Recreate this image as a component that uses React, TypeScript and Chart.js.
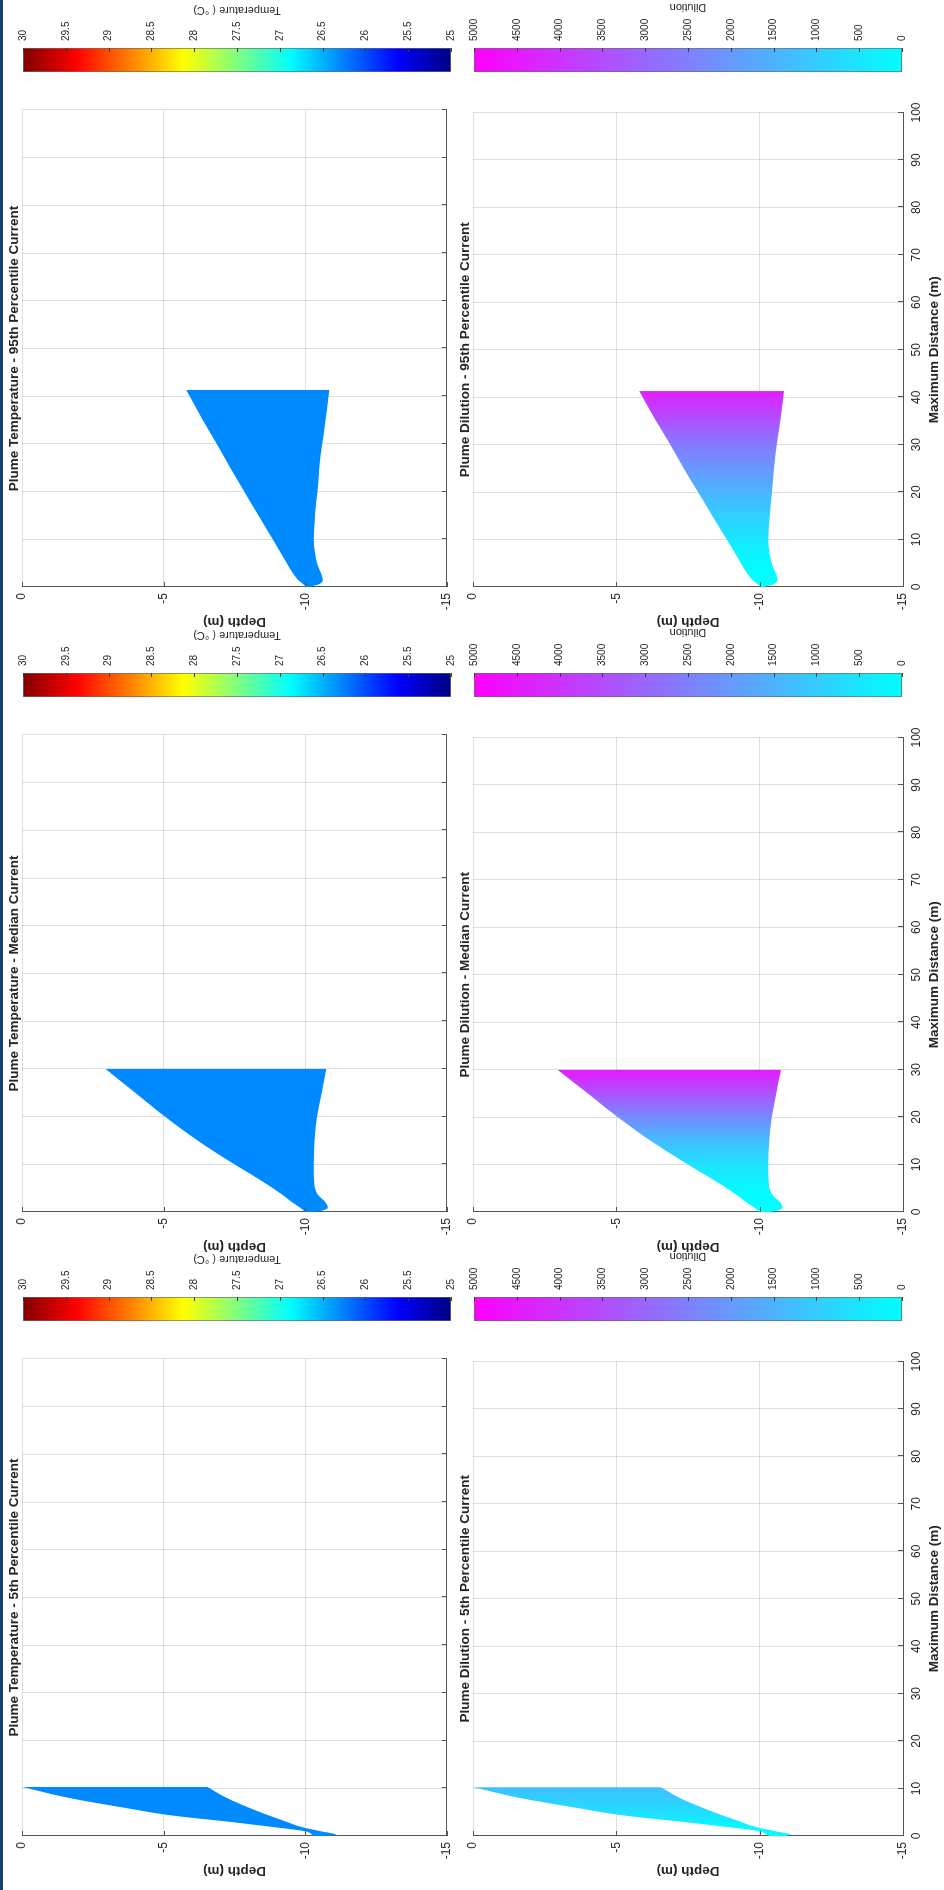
import React, { useEffect, useRef } from "react";
import { Chart, registerables } from "chart.js";

Chart.register(...registerables);

const FONT = "'Liberation Sans', Arial, Helvetica, sans-serif";
const TEXT = "#262626";
const AXIS = "#555555";
const GRID = "rgba(38,38,38,0.15)";

// ---------- tick labels ----------
const distanceTicks = [0, 10, 20, 30, 40, 50, 60, 70, 80, 90, 100];
const depthTicks = [0, -5, -10, -15];
const temperatureTicks = [25, 25.5, 26, 26.5, 27, 27.5, 28, 28.5, 29, 29.5, 30];
const dilutionTicks = [0, 500, 1000, 1500, 2000, 2500, 3000, 3500, 4000, 4500, 5000];

// ---------- current cases ----------
const caseNames = ["5th Percentile Current", "Median Current", "95th Percentile Current"];

// plume outline: distance (m), shallow edge depth (m), deep edge depth (m)
const p5Distance = [0, 0.3, 1, 2, 3, 4.3, 6, 8, 10.3];
const p5Top = [-10.35, -10.25, -10.0, -8.7, -7.3, -5.3, -3.55, -1.65, 0];
const p5Bottom = [-10.9, -11.08, -10.55, -9.8, -9.33, -8.72, -7.99, -7.22, -6.55];

const pMDistance = [0, 0.3, 1, 2, 3.6, 6, 10, 15, 20, 25, 30];
const pMTop = [-10.0, -9.95, -9.8, -9.55, -9.2, -8.6, -7.5, -6.2, -5.05, -4.0, -2.95];
const pMBottom = [-10.3, -10.6, -10.8, -10.72, -10.45, -10.32, -10.3, -10.33, -10.42, -10.58, -10.74];

const p95Distance = [0, 0.5, 1.5, 3, 5, 10, 15, 20, 25, 30, 35, 41.3];
const p95Top = [-10.05, -9.95, -9.75, -9.55, -9.35, -8.85, -8.35, -7.85, -7.35, -6.88, -6.38, -5.8];
const p95Bottom = [-10.1, -10.45, -10.62, -10.55, -10.42, -10.3, -10.35, -10.43, -10.5, -10.6, -10.72, -10.85];

// plume temperature (deg C) per case
const plumeTemperature = [26.3, 26.3, 26.3];

// dilution along the plume: distance (m) -> dilution
const dil5Distance = [0, 2, 5, 10.3];
const dil5Value = [0, 150, 650, 1250];
const dilMDistance = [0, 5, 10, 15, 20, 25, 30];
const dilMValue = [0, 150, 550, 1300, 2300, 3400, 4500];
const dil95Distance = [0, 5, 10, 20, 30, 41.3];
const dil95Value = [0, 100, 450, 1450, 2600, 4400];

// colormaps
const jetStops = [0, 0.125, 0.375, 0.625, 0.875, 1];
const jetColors = [[0, 0, 128], [0, 0, 255], [0, 255, 255], [255, 255, 0], [255, 0, 0], [128, 0, 0]];
const coolStops = [0, 1];
const coolColors = [[0, 255, 255], [255, 0, 255]];

const plumes = [
  { distance: p5Distance, top: p5Top, bottom: p5Bottom, dilDist: dil5Distance, dilVal: dil5Value },
  { distance: pMDistance, top: pMTop, bottom: pMBottom, dilDist: dilMDistance, dilVal: dilMValue },
  { distance: p95Distance, top: p95Top, bottom: p95Bottom, dilDist: dil95Distance, dilVal: dil95Value },
];

function mapColor(t: number, stops: number[], colors: number[][]): string {
  const tt = Math.max(0, Math.min(1, t));
  for (let i = 1; i < stops.length; i++) {
    if (tt <= stops[i]) {
      const f = (tt - stops[i - 1]) / (stops[i] - stops[i - 1]);
      const c = colors[i - 1].map((v, k) => Math.round(v + (colors[i][k] - v) * f));
      return `rgb(${c[0]},${c[1]},${c[2]})`;
    }
  }
  const c = colors[colors.length - 1];
  return `rgb(${c[0]},${c[1]},${c[2]})`;
}

const first = (a: number[]) => a[0];
const last = (a: number[]) => a[a.length - 1];
const norm = (v: number, a: number[]) => (v - Math.min(first(a), last(a))) / Math.abs(last(a) - first(a));

// ---------- layout (in the un-rotated landscape frame 1890 x 944) ----------
const FIG_W = 1890;
const FIG_H = 944;
const COL_LEFT = [54, 678, 1303];
const PLOT_W = 477;
const ROW_TOP = [22, 473];
const PLOT_H = 430;
const Y_AXIS_W = 54;
const RIGHT_PAD = 14;
const TITLE_PAD = 22;
const CB_GAP = 38;
const CB_W = 24;
const CB_AXIS_W = 56;

function plotConfig(kind: string, ci: number) {
  const p = plumes[ci];
  const isDil = kind === "dilution";
  const upper = p.distance.map((d, i) => ({ x: d, y: p.top[i] }));
  const lower = p.distance.map((d, i) => ({ x: d, y: p.bottom[i] }));
  const fillColor: any = isDil
    ? (c: any) => {
        const ch = c.chart;
        if (!ch.chartArea) return mapColor(0, coolStops, coolColors);
        const xs = ch.scales.x;
        const maxD = last(p.dilDist);
        const g = ch.ctx.createLinearGradient(xs.getPixelForValue(0), 0, xs.getPixelForValue(maxD), 0);
        p.dilDist.forEach((d, i) =>
          g.addColorStop(d / maxD, mapColor(norm(p.dilVal[i], dilutionTicks), coolStops, coolColors))
        );
        return g;
      }
    : mapColor(norm(plumeTemperature[ci], temperatureTicks), jetStops, jetColors);

  const title = (isDil ? "Plume Dilution - " : "Plume Temperature - ") + caseNames[ci];
  const xTitle = isDil ? "Maximum Distance (m)" : null;

  const textPlugin = {
    id: "panelText",
    afterDraw(chart: any) {
      const { ctx, chartArea: a } = chart;
      const xs = chart.scales.x;
      const ys = chart.scales.y;
      ctx.save();
      ctx.strokeStyle = AXIS;
      ctx.lineWidth = 1;
      ctx.beginPath();
      xs.ticks.forEach((t: any) => {
        const px = Math.round(xs.getPixelForValue(t.value)) + 0.5;
        ctx.moveTo(px, a.bottom);
        ctx.lineTo(px, a.bottom - 5);
      });
      ys.ticks.forEach((t: any) => {
        const py = Math.round(ys.getPixelForValue(t.value)) + 0.5;
        ctx.moveTo(a.left, py);
        ctx.lineTo(a.left + 5, py);
      });
      ctx.stroke();
      ctx.fillStyle = TEXT;
      ctx.font = `bold 13.5px ${FONT}`;
      ctx.textAlign = "center";
      ctx.textBaseline = "alphabetic";
      ctx.fillText(title, (a.left + a.right) / 2, a.top - 4);
      if (xTitle) ctx.fillText(xTitle, (a.left + a.right) / 2, a.bottom + 35);
      ctx.translate(a.left - 31, (a.top + a.bottom) / 2);
      ctx.rotate(-Math.PI / 2);
      ctx.fillText("Depth (m)", 0, 0);
      ctx.restore();
    },
  };

  return {
    type: "line",
    data: {
      datasets: [
        {
          data: upper,
          borderWidth: 0,
          borderColor: "rgba(0,0,0,0)",
          pointRadius: 0,
          tension: 0.3,
          fill: "+1",
          backgroundColor: fillColor,
        },
        {
          data: lower,
          borderWidth: 0,
          borderColor: "rgba(0,0,0,0)",
          pointRadius: 0,
          tension: 0.3,
          fill: false,
        },
      ],
    },
    options: {
      animation: false,
      responsive: false,
      devicePixelRatio: 1,
      events: [],
      layout: { padding: { left: 0, top: TITLE_PAD, right: RIGHT_PAD, bottom: 0 } },
      plugins: { legend: { display: false }, tooltip: { enabled: false }, title: { display: false } },
      elements: { line: { cubicInterpolationMode: "monotone" } },
      scales: {
        x: {
          type: "linear",
          min: first(distanceTicks),
          max: last(distanceTicks),
          afterBuildTicks: (s: any) => {
            s.ticks = distanceTicks.map((v) => ({ value: v }));
          },
          afterFit: (s: any) => {
            s.height = isDil ? 41 : 8;
          },
          grid: { color: GRID, lineWidth: 1, drawTicks: false },
          border: { display: true, color: AXIS, width: 1 },
          ticks: {
            display: isDil,
            padding: 6.5,
            maxRotation: 0,
            autoSkip: false,
            color: TEXT,
            font: { family: FONT, size: 12 },
            callback: (v: any) => String(v),
          },
        },
        y: {
          type: "linear",
          min: last(depthTicks),
          max: first(depthTicks),
          afterBuildTicks: (s: any) => {
            s.ticks = depthTicks.map((v) => ({ value: v }));
          },
          afterFit: (s: any) => {
            s.width = Y_AXIS_W;
          },
          grid: { color: GRID, lineWidth: 1, drawTicks: false },
          border: { display: true, color: AXIS, width: 1 },
          ticks: {
            padding: 6,
            autoSkip: false,
            color: TEXT,
            font: { family: FONT, size: 12 },
            callback: (v: any) => String(v),
          },
        },
      },
    },
    plugins: [textPlugin],
  };
}

function colorbarConfig(kind: string) {
  const isDil = kind === "dilution";
  const ticks = isDil ? dilutionTicks : temperatureTicks;
  const stops = isDil ? coolStops : jetStops;
  const colors = isDil ? coolColors : jetColors;
  const label = isDil ? "Dilution" : "Temperature ( \u00B0C)";
  const lo = first(ticks);
  const hi = last(ticks);

  const cbPlugin = {
    id: "cbText",
    afterDraw(chart: any) {
      const { ctx, chartArea: a } = chart;
      const ys = chart.scales.y;
      ctx.save();
      ctx.strokeStyle = "#3a3a3a";
      ctx.lineWidth = 1;
      ctx.beginPath();
      ys.ticks.forEach((t: any) => {
        const py = Math.round(ys.getPixelForValue(t.value)) + 0.5;
        ctx.moveTo(a.right, py);
        ctx.lineTo(a.right - 4, py);
      });
      ctx.stroke();
      ctx.font = `10px ${FONT}`;
      let maxW = 0;
      ticks.forEach((v) => {
        maxW = Math.max(maxW, ctx.measureText(String(v)).width);
      });
      ctx.font = `11px ${FONT}`;
      ctx.fillStyle = TEXT;
      ctx.textAlign = "center";
      ctx.textBaseline = "alphabetic";
      ctx.translate(a.right + 7.3 + maxW + 6.6 + 7.9, (a.top + a.bottom) / 2);
      ctx.rotate(-Math.PI / 2);
      ctx.fillText(label, 0, 0);
      ctx.restore();
    },
  };

  return {
    type: "bar",
    data: {
      labels: [label],
      datasets: [
        {
          data: [[lo, hi]],
          barPercentage: 1,
          categoryPercentage: 1,
          borderWidth: 1,
          borderColor: "#6a6a6a",
          borderSkipped: false,
          backgroundColor: (c: any) => {
            const ch = c.chart;
            if (!ch.chartArea) return mapColor(0.5, stops, colors);
            const ys = ch.scales.y;
            const g = ch.ctx.createLinearGradient(0, ys.getPixelForValue(lo), 0, ys.getPixelForValue(hi));
            stops.forEach((s) => g.addColorStop(s, mapColor(s, stops, colors)));
            return g;
          },
        },
      ],
    },
    options: {
      animation: false,
      responsive: false,
      devicePixelRatio: 1,
      events: [],
      layout: { padding: { left: 0, top: 12, right: 0, bottom: 12 } },
      plugins: { legend: { display: false }, tooltip: { enabled: false }, title: { display: false } },
      scales: {
        x: { display: false },
        y: {
          position: "right",
          min: lo,
          max: hi,
          afterBuildTicks: (s: any) => {
            s.ticks = ticks.map((v) => ({ value: v }));
          },
          afterFit: (s: any) => {
            s.width = CB_AXIS_W;
          },
          grid: { display: false, drawTicks: false },
          border: { display: false },
          ticks: {
            padding: 7,
            autoSkip: false,
            color: TEXT,
            font: { family: FONT, size: 10 },
            callback: (v: any) => String(v),
          },
        },
      },
    },
    plugins: [cbPlugin],
  };
}

function ChartCanvas(props: { left: number; top: number; width: number; height: number; make: () => any }) {
  const ref = useRef<HTMLCanvasElement | null>(null);
  useEffect(() => {
    const chart = new Chart(ref.current as HTMLCanvasElement, props.make());
    return () => chart.destroy();
  }, []);
  return (
    <canvas
      ref={ref}
      width={props.width}
      height={props.height}
      style={{ position: "absolute", left: props.left, top: props.top, width: props.width, height: props.height }}
    />
  );
}

export default function App() {
  const items: any[] = [];
  ["temperature", "dilution"].forEach((kind, ri) => {
    const isDil = kind === "dilution";
    [0, 1, 2].forEach((ci) => {
      const plotLeft = COL_LEFT[ci];
      const rowTop = ROW_TOP[ri];
      items.push(
        <ChartCanvas
          key={`p-${kind}-${ci}`}
          left={plotLeft - Y_AXIS_W}
          top={rowTop - TITLE_PAD}
          width={Y_AXIS_W + PLOT_W + RIGHT_PAD}
          height={TITLE_PAD + PLOT_H + (isDil ? 41 : 8)}
          make={() => plotConfig(kind, ci)}
        />
      );
      items.push(
        <ChartCanvas
          key={`c-${kind}-${ci}`}
          left={plotLeft + PLOT_W + CB_GAP}
          top={rowTop - 12}
          width={CB_W + CB_AXIS_W}
          height={PLOT_H + 24}
          make={() => colorbarConfig(kind)}
        />
      );
    });
  });

  return (
    <div
      style={{
        position: "fixed",
        left: 0,
        top: 0,
        width: 944,
        height: 1890,
        overflow: "hidden",
        background: "#ffffff",
      }}
    >
      <div
        style={{
          position: "absolute",
          left: 0,
          top: 0,
          width: FIG_W,
          height: FIG_H,
          transformOrigin: "0 0",
          transform: `translate(0px, ${FIG_W}px) rotate(-90deg)`,
        }}
      >
        {items}
      </div>
      <div style={{ position: "absolute", left: 0, top: 0, width: 3, height: 1890, background: "#173f78" }} />
    </div>
  );
}
